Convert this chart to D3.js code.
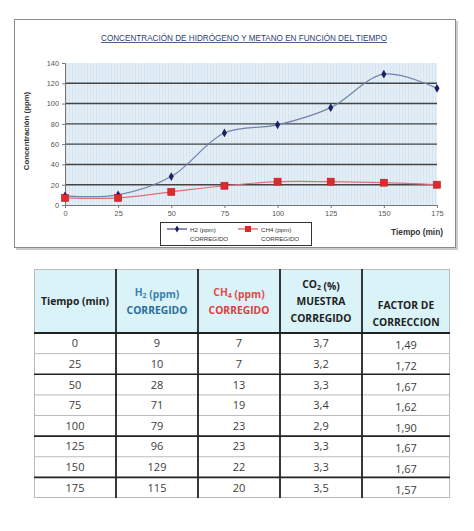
<!DOCTYPE html>
<html>
<head>
<meta charset="utf-8">
<script src="https://cdn.jsdelivr.net/npm/d3@7"></script>
<style>
  body { margin: 0; background: #fff; }
  svg { display: block; font-family: "Liberation Sans", Arial, sans-serif; }
</style>
</head>
<body>
<div id="chart"></div>
<script>
// data
let tiempo = [0, 25, 50, 75, 100, 125, 150, 175];
let h2 = [9, 10, 28, 71, 79, 96, 129, 115];
let ch4 = [7, 7, 13, 19, 23, 23, 22, 20];
let co2 = ["3,7", "3,2", "3,3", "3,4", "2,9", "3,3", "3,3", "3,5"];
let factor = ["1,49", "1,72", "1,67", "1,62", "1,90", "1,67", "1,67", "1,57"];
let yTicks = [0, 20, 40, 60, 80, 100, 120, 140];
let xTicks = [0, 25, 50, 75, 100, 125, 150, 175];

let w = 474, h = 531;
let svg = d3.select("#chart").append("svg")
    .attr("width", w)
    .attr("height", h);

let defs = svg.append("defs");
let pat = defs.append("pattern")
    .attr("id", "stripes")
    .attr("patternUnits", "userSpaceOnUse")
    .attr("width", 3)
    .attr("height", 10);
pat.append("rect").attr("width", 3).attr("height", 10).attr("fill", "#e3eef6");
pat.append("rect").attr("width", 1).attr("height", 10).attr("fill", "#d6e4ef");

// chart frame
svg.append("rect")
    .attr("x", 16).attr("y", 21)
    .attr("width", 442).attr("height", 229)
    .attr("fill", "#ccc");
svg.append("rect")
    .attr("x", 14.5).attr("y", 19.5)
    .attr("width", 441).attr("height", 228)
    .attr("fill", "#fff")
    .attr("stroke", "#8a8a8a");

svg.append("text")
    .attr("x", 244).attr("y", 41)
    .attr("text-anchor", "middle")
    .attr("font-size", 8.3)
    .attr("fill", "#2b3f73")
    .attr("textLength", 286)
    .attr("lengthAdjust", "spacingAndGlyphs")
    .attr("text-decoration", "underline")
    .text("CONCENTRACIÓN DE HIDRÓGENO Y METANO EN FUNCIÓN DEL TIEMPO");

let x = d3.scaleLinear().domain([0, 175]).range([65, 437]);
let y = d3.scaleLinear().domain([0, 140]).range([205, 63]);

svg.append("rect")
    .attr("x", x(0)).attr("y", y(140))
    .attr("width", x(175) - x(0)).attr("height", y(0) - y(140))
    .attr("fill", "url(#stripes)");

svg.append("g")
    .selectAll("line")
    .data(yTicks.filter(d => d > 0 && d < 140))
    .enter()
    .append("line")
    .attr("x1", x(0)).attr("x2", x(175))
    .attr("y1", d => y(d)).attr("y2", d => y(d))
    .attr("stroke", "#444")
    .attr("stroke-width", 1.4);

let yAxis = svg.append("g")
    .attr("transform", `translate(${x(0)},0)`)
    .call(d3.axisLeft(y).tickValues(yTicks).tickSize(3).tickPadding(3));
let xAxis = svg.append("g")
    .attr("transform", `translate(0,${y(0)})`)
    .call(d3.axisBottom(x).tickValues(xTicks).tickSize(3).tickPadding(3));
[xAxis, yAxis].forEach(a => {
    a.select(".domain").attr("stroke", "#777");
    a.selectAll(".tick line").attr("stroke", "#777");
    a.selectAll("text").attr("font-size", 7.4).attr("fill", "#555").attr("font-family", "Liberation Sans, Arial, sans-serif");
});

svg.append("text")
    .attr("transform", "translate(29,131) rotate(-90)")
    .attr("text-anchor", "middle")
    .attr("font-size", 7.8)
    .attr("font-weight", "bold")
    .attr("fill", "#333")
    .text("Concentración (ppm)");

svg.append("text")
    .attr("x", 443).attr("y", 235)
    .attr("text-anchor", "end")
    .attr("font-size", 8.3)
    .attr("font-weight", "bold")
    .attr("fill", "#333")
    .text("Tiempo (min)");

let line = d3.line()
    .x((d, i) => x(tiempo[i]))
    .y(d => y(d))
    .curve(d3.curveCatmullRom.alpha(0.5));

svg.append("path")
    .datum(ch4)
    .attr("d", line)
    .attr("fill", "none")
    .attr("stroke", "#e26c7a")
    .attr("stroke-width", 1.2);
svg.append("path")
    .datum(h2)
    .attr("d", line)
    .attr("fill", "none")
    .attr("stroke", "#6f84aa")
    .attr("stroke-width", 1.2);

let diamond = d3.symbol().type(d3.symbolDiamond).size(22);
svg.append("g")
    .selectAll("path")
    .data(h2)
    .enter()
    .append("path")
    .attr("d", diamond)
    .attr("transform", (d, i) => `translate(${x(tiempo[i])},${y(d)})`)
    .attr("fill", "#1b1f63");
svg.append("g")
    .selectAll("rect")
    .data(ch4)
    .enter()
    .append("rect")
    .attr("x", (d, i) => x(tiempo[i]) - 3.5)
    .attr("y", d => y(d) - 3.5)
    .attr("width", 7).attr("height", 7)
    .attr("fill", "#e0282e")
    .attr("stroke", "#b51d22")
    .attr("stroke-width", 0.6);

// legend
let legend = svg.append("g");
legend.append("rect")
    .attr("x", 160.5).attr("y", 222.5)
    .attr("width", 151).attr("height", 23)
    .attr("fill", "#fff")
    .attr("stroke", "#333");
let leg = [
    {name: "H2 (ppm)", lx: 167, color: "#1b1f63", lineColor: "#1b1f63"},
    {name: "CH4 (ppm)", lx: 238, color: "#e0282e", lineColor: "#e0282e"}
];
leg.forEach((d, i) => {
    legend.append("line")
        .attr("x1", d.lx).attr("x2", d.lx + 20)
        .attr("y1", 229).attr("y2", 229)
        .attr("stroke", d.lineColor).attr("stroke-width", 1);
    if (i === 0) {
        legend.append("path").attr("d", d3.symbol().type(d3.symbolDiamond).size(14))
            .attr("transform", `translate(${d.lx + 10},229)`).attr("fill", d.color);
    } else {
        legend.append("rect").attr("x", d.lx + 7).attr("y", 226).attr("width", 6).attr("height", 6)
            .attr("fill", d.color);
    }
    legend.append("text").attr("x", d.lx + 23).attr("y", 231.5)
        .attr("font-size", 6.2).attr("fill", "#333").text(d.name);
    legend.append("text").attr("x", d.lx + 23).attr("y", 241)
        .attr("font-size", 6.2).attr("fill", "#333").text("CORREGIDO");
});

// table
let colX = [34, 116, 198, 280, 362, 450];
let headTop = 269, headBottom = 333, tableBottom = 498;
let rows = d3.scaleBand().domain(d3.range(tiempo.length)).range([headBottom, tableBottom]);
let darkAfter = [1, 4, 6];

let table = svg.append("g").attr("font-family", "'Open Sans', 'Liberation Sans', sans-serif");
table.append("rect")
    .attr("x", colX[0]).attr("y", headTop)
    .attr("width", colX[5] - colX[0]).attr("height", headBottom - headTop)
    .attr("fill", "#d9f3f9");
table.append("rect")
    .attr("x", colX[0] + 0.5).attr("y", headTop + 0.5)
    .attr("width", colX[5] - colX[0] - 1).attr("height", tableBottom - headTop - 1)
    .attr("fill", "none")
    .attr("stroke", "#bbb");

table.selectAll(".rowline")
    .data(d3.range(tiempo.length - 1))
    .enter()
    .append("line")
    .attr("x1", colX[0]).attr("x2", colX[5])
    .attr("y1", i => rows(i) + rows.bandwidth())
    .attr("y2", i => rows(i) + rows.bandwidth())
    .attr("stroke", i => darkAfter.includes(i) ? "#222" : "#bbb")
    .attr("stroke-width", i => darkAfter.includes(i) ? 1.6 : 1);
table.append("line")
    .attr("x1", colX[0]).attr("x2", colX[5])
    .attr("y1", headBottom).attr("y2", headBottom)
    .attr("stroke", "#222").attr("stroke-width", 1.8);
table.selectAll(".colline")
    .data(colX.slice(1, 5))
    .enter()
    .append("line")
    .attr("x1", d => d).attr("x2", d => d)
    .attr("y1", headTop).attr("y2", tableBottom)
    .attr("stroke", "#222").attr("stroke-width", 1.8);

let mid = i => (colX[i] + colX[i + 1]) / 2;
function headLine(col, yy, parts, color) {
    let t = table.append("text")
        .attr("x", mid(col)).attr("y", yy)
        .attr("text-anchor", "middle")
        .attr("font-size", 10.3)
        .attr("font-weight", "bold")
        .attr("fill", color);
    parts.forEach(p => {
        if (p.sub) {
            t.append("tspan").attr("font-size", 7).attr("dy", 2).text(p.sub);
            t.append("tspan").attr("dy", -2).text("");
        } else {
            t.append("tspan").text(p.t);
        }
    });
}
headLine(0, 305, [{t: "Tiempo (min)"}], "#222");
headLine(1, 296, [{t: "H"}, {sub: "2"}, {t: " (ppm)"}], "#3d7fae");
headLine(1, 314, [{t: "CORREGIDO"}], "#2b6d97");
headLine(2, 296, [{t: "CH"}, {sub: "4"}, {t: " (ppm)"}], "#e24a4a");
headLine(2, 314, [{t: "CORREGIDO"}], "#e03c3c");
headLine(3, 288, [{t: "CO"}, {sub: "2"}, {t: " (%)"}], "#222");
headLine(3, 305, [{t: "MUESTRA"}], "#222");
headLine(3, 322, [{t: "CORREGIDO"}], "#222");
headLine(4, 309, [{t: "FACTOR DE"}], "#222");
headLine(4, 326, [{t: "CORRECCION"}], "#222");

let columns = [tiempo, h2, ch4, co2, factor];
columns.forEach((vals, c) => {
    table.selectAll(".c" + c)
        .data(vals)
        .enter()
        .append("text")
        .attr("x", mid(c))
        .attr("y", (d, i) => rows(i) + rows.bandwidth() / 2 + (c === 4 ? 6 : 4))
        .attr("text-anchor", "middle")
        .attr("font-size", 11)
        .attr("fill", "#3c3c3c")
        .text(d => d);
});
</script>
</body>
</html>
